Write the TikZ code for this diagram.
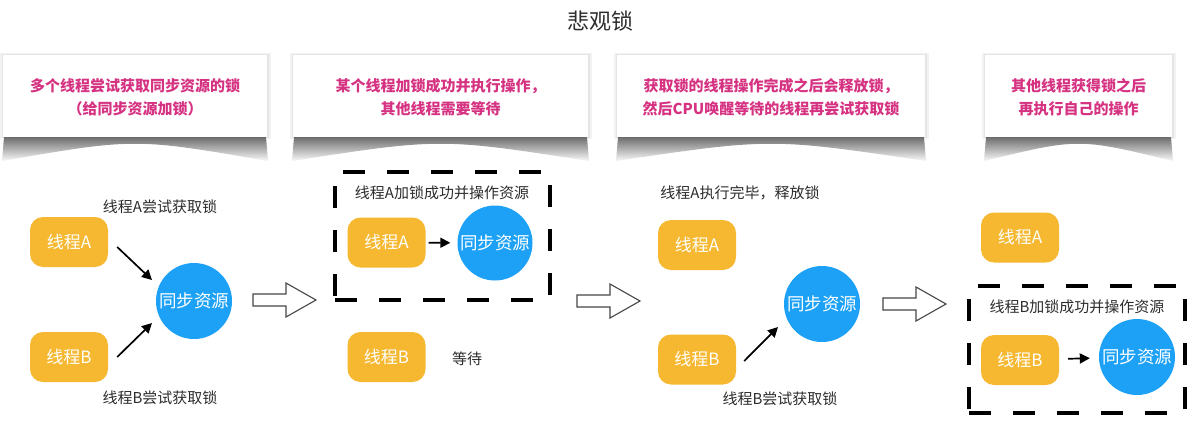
\documentclass[tikz,border=0pt]{standalone}
\usepackage{fontspec}
\setmainfont{Noto Sans CJK SC}
\usetikzlibrary{arrows.meta}
\definecolor{bannertxt}{RGB}{214,50,130}
\definecolor{thrcol}{RGB}{245,184,48}
\definecolor{rescol}{RGB}{28,161,246}
\definecolor{lblcol}{RGB}{45,45,45}
\definecolor{hollowcol}{RGB}{70,70,70}
\tikzset{
  thread/.style={rounded corners=13pt, fill=thrcol, minimum width=78pt, minimum height=50pt,
    text=white, font=\fontsize{17}{20}\selectfont, inner sep=0pt},
  res/.style={circle, fill=rescol, minimum size=76pt, text=white,
    font=\fontsize{17.5}{20}\selectfont, inner sep=0pt},
  lbl/.style={text=lblcol, font=\fontsize{15}{17}\selectfont, inner sep=0pt},
  conn/.style={-{Triangle[length=10pt,width=10pt]}, line width=1.7pt, black},
  dashbox/.style={draw=black, line width=3.5pt, dash pattern=on 22pt off 22pt, inner sep=0pt},
  bannerbox/.style={fill=white},
  bannertext/.style={text=bannertxt, font=\fontsize{15}{23}\selectfont\bfseries, align=center, inner sep=0pt},
  hollow/.style={draw=hollowcol, line width=1.1pt, fill=white, line join=miter},
  pics/harrow/.style={code={
    \draw[hollow] (0,-6) -- (33,-6) -- (33,-17) -- (63,0) -- (33,17) -- (33,6) -- (0,6) -- cycle;
  }}
}
\newcommand{\mybanner}[4]{%
  % #1 left x, #2 right x, #3 name, #4 text
  \fill[black, opacity=0.05] (#1-3,53) rectangle (#2+4,139);
  \fill[black, opacity=0.05] (#1-1,54) rectangle (#2+2,138);
  \begin{scope}
    \clip (#1+1,137) -- (#2-1,137) -- (#2+1,161) .. controls ({(#1+#2)/2},138) .. (#1-1,161) -- cycle;
    \foreach \i in {0,...,24}{%
      \pgfmathtruncatemacro{\shd}{max(4,58-2.3*\i)}%
      \fill[black!\shd] (#1-2,137+\i) rectangle (#2+2,138.2+\i);
    }
  \end{scope}
  \fill[bannerbox] (#1,55) rectangle (#2,137);
  \node[bannertext] (#3) at ({(#1+#2)/2},97) {#4};
}
\begin{document}
\begin{tikzpicture}[x=1pt,y=-1pt]
\useasboundingbox (0,0) rectangle (1201,439);
\fill[white] (0,0) rectangle (1201,439);

% title
\node[text=lblcol, font=\fontsize{22}{26}\selectfont, inner sep=0pt] (title) at (600,21) {悲观锁};

% banners
\mybanner{3}{267}{ban1}{多个线程尝试获取同步资源的锁\\（给同步资源加锁）}
\mybanner{293}{588}{ban2}{某个线程加锁成功并执行操作，\\其他线程需要等待}
\mybanner{617}{925}{ban3}{获取锁的线程操作完成之后会释放锁，\\然后CPU唤醒等待的线程再尝试获取锁}
\mybanner{985}{1172}{ban4}{其他线程获得锁之后\\再执行自己的操作}

% panel 1
\node[thread] (a1) at (69,242) {线程A};
\node[thread] (b1) at (69,357) {线程B};
\node[res] (r1) at (194,301) {同步资源};
\node[lbl] (la1) at (160,207) {线程A尝试获取锁};
\node[lbl] (lb1) at (160,398) {线程B尝试获取锁};
\draw[conn] ([shift={(9,5)}]a1.east) -- ([shift={(-42,-21)}]r1.center);
\draw[conn] ([shift={(9,0)}]b1.east) -- ([shift={(-42,22)}]r1.center);

\pic at (253,300) {harrow};

% panel 2
\node[dashbox, minimum width=215pt, minimum height=128pt] (box2) at (442.5,236) {};
\node[lbl] (la2) at (442,193) {线程A加锁成功并操作资源};
\node[thread] (a2) at (386.5,242.5) {线程A};
\node[res, minimum size=75pt] (r2) at (495,243) {同步资源};
\draw[conn, shorten <=3pt, shorten >=7pt] (a2) -- (r2);
\node[thread] (b2) at (386.5,357) {线程B};
\node[lbl] (w2) at (467,359) {等待};

\pic at (577,301) {harrow};

% panel 3
\node[lbl] (la3) at (740,193) {线程A执行完毕，释放锁};
\node[thread] (a3) at (697,245) {线程A};
\node[thread] (b3) at (697,359.5) {线程B};
\node[res] (r3) at (822,304) {同步资源};
\draw[conn] ([shift={(8,1.5)}]b3.east) -- ([shift={(-44,23)}]r3.center);
\node[lbl] (lb3) at (780,399) {线程B尝试获取锁};

\pic at (883,304) {harrow};

% panel 4
\node[thread] (a4) at (1020,237.5) {线程A};
\node[dashbox, minimum width=216pt, minimum height=127pt] (box4) at (1077,349.5) {};
\node[lbl] (lb4) at (1077,307) {线程B加锁成功并操作资源};
\node[thread] (b4) at (1020,360) {线程B};
\node[res] (r4) at (1137,357) {同步资源};
\draw[conn, shorten <=9pt, shorten >=9pt] (b4) -- (r4);
\end{tikzpicture}
\end{document}
